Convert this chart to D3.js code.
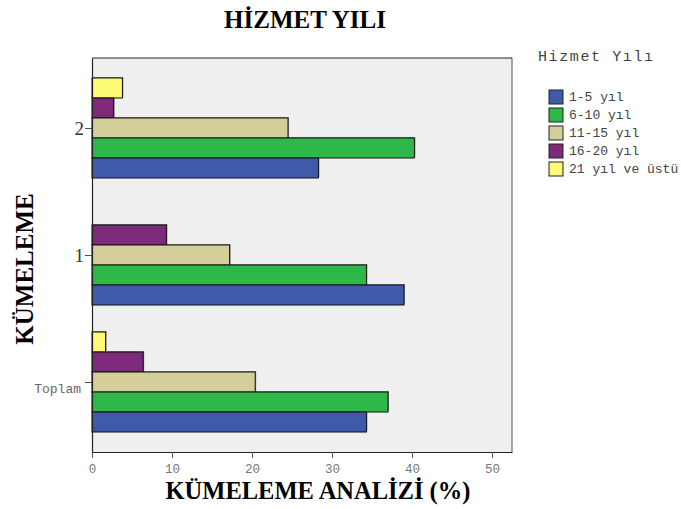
<!DOCTYPE html>
<html><head><meta charset="utf-8">
<script src="https://cdn.jsdelivr.net/npm/d3@7"></script>
<style>body{margin:0;background:#fff}</style>
</head><body>
<svg id="c" width="681" height="509"></svg>
<script>
const categories = ["2", "1", "Toplam"];
const seriesNames = ["21 yıl ve üstü", "16-20 yıl", "11-15 yıl", "6-10 yıl", "1-5 yıl"];
const legendOrder = ["1-5 yıl", "6-10 yıl", "11-15 yıl", "16-20 yıl", "21 yıl ve üstü"];
const colors = {"1-5 yıl":"#3d5aab","6-10 yıl":"#2fb84a","11-15 yıl":"#d4cf9a","16-20 yıl":"#7d2a7b","21 yıl ve üstü":"#fdfa76"};
const values = {
  "2":      [3.8, 2.7, 24.5, 40.3, 28.3],
  "1":      [0,   9.3, 17.2, 34.3, 39.0],
  "Toplam": [1.7, 6.4, 20.4, 37.0, 34.3]
};
const xTicks = [0,10,20,30,40,50];

const svg = d3.select("#c");
const L=92, R=512, T=58, B=452;
const mono = "'Liberation Mono', monospace";
const serif = "'Liberation Serif', 'Times New Roman', serif";
const x = d3.scaleLinear().domain([0,52.5]).range([L,R]);
const y = d3.scalePoint().domain(categories).range([T,B]).padding(0.551);
const inner = d3.scaleBand().domain(seriesNames).range([-50,50]).padding(0);

svg.append("rect").attr("x",L).attr("y",T).attr("width",R-L).attr("height",B-T).attr("fill","#efefef");
svg.append("line").attr("x1",R).attr("x2",R).attr("y1",T).attr("y2",B).attr("stroke","#888").attr("stroke-width",1.5);
svg.append("line").attr("x1",L).attr("x2",R).attr("y1",T).attr("y2",T).attr("stroke","#222");

const g = svg.append("g");
categories.forEach(c=>{
  seriesNames.forEach((s,i)=>{
    const v = values[c][i];
    if(v<=0) return;
    const y0 = y(c)+inner(s);
    g.append("rect").attr("x",x(0)+1).attr("y",y0-1).attr("width",x(v)-x(0)).attr("height",inner.bandwidth())
      .attr("fill","#888");
  });
  seriesNames.forEach((s,i)=>{
    const v = values[c][i];
    if(v<=0) return;
    const y0 = y(c)+inner(s);
    g.append("rect").attr("x",x(0)).attr("y",y0).attr("width",x(v)-x(0)).attr("height",inner.bandwidth())
      .attr("fill",colors[s]).attr("stroke","#111").attr("stroke-width",1);
  });
});

// x axis
const xa = svg.append("g").attr("transform",`translate(0,${B})`)
  .call(d3.axisBottom(x).tickValues(xTicks).tickSize(6).tickSizeOuter(0).tickPadding(6));
xa.select(".domain").attr("stroke","#222").attr("stroke-width",1.2);
xa.selectAll(".tick line").attr("stroke","#555");
xa.selectAll("text").attr("font-family",mono).attr("font-size",12.5).attr("fill","#777");

// y axis
const ya = svg.append("g").attr("transform",`translate(${L},0)`)
  .call(d3.axisLeft(y).tickSize(7).tickSizeOuter(0).tickPadding(2));
ya.select(".domain").attr("stroke","#222").attr("stroke-width",1.2);
ya.selectAll(".tick line").attr("stroke","#555");
ya.selectAll("text").each(function(d){
  const t = d3.select(this);
  if(d==="Toplam"){
    t.attr("font-family",mono).attr("font-size",13).attr("fill","#666").attr("dy",10).attr("x",-11);
  } else {
    t.attr("font-family",serif).attr("font-size",19).attr("fill","#333").attr("dy","0.35em").attr("x",-8);
  }
});

// titles
svg.append("text").attr("x",305).attr("y",28).attr("text-anchor","middle")
  .attr("font-family",serif).attr("font-weight","bold").attr("font-size",25).text("HİZMET YILI");
svg.append("text").attr("x",318).attr("y",499).attr("text-anchor","middle")
  .attr("font-family",serif).attr("font-weight","bold").attr("font-size",24.5).text("KÜMELEME ANALİZİ (%)");
svg.append("text").attr("transform","translate(33,269) rotate(-90)").attr("text-anchor","middle")
  .attr("font-family",serif).attr("font-weight","bold").attr("font-size",25).text("KÜMELEME");

// legend
svg.append("text").attr("x",538).attr("y",61).attr("font-family",mono).attr("font-size",15)
  .attr("letter-spacing",1.6).attr("fill","#444").text("Hizmet Yılı");
const lg = svg.append("g");
legendOrder.forEach((s,i)=>{
  const yy = 90 + i*18;
  lg.append("rect").attr("x",549).attr("y",yy).attr("width",14).attr("height",14).attr("fill",colors[s]).attr("stroke","#222");
  lg.append("text").attr("x",569).attr("y",yy+11).attr("font-family",mono).attr("font-size",13).attr("fill","#444").text(s);
});
</script>
</body></html>
